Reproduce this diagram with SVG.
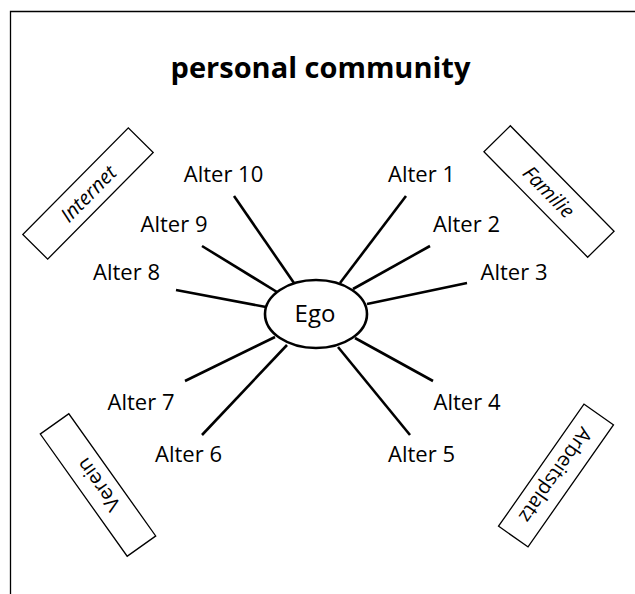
<svg xmlns="http://www.w3.org/2000/svg" width="635" height="594" viewBox="0 0 635 594">
<style>
text{font-family:"Open Sans","Noto Sans","Liberation Sans",sans-serif;fill:#000}
.lbl{font-size:22px;text-anchor:middle}
.box{fill:#fff;stroke:#000;stroke-width:1.3}
.bt{font-size:20px;text-anchor:middle;dominant-baseline:central}
.edge{stroke:#000;stroke-width:2.6;stroke-linecap:butt;fill:none}
</style>
<rect width="635" height="594" fill="#fff"/>
<path d="M10.5 594 V11.5 H635" fill="none" stroke="#000" stroke-width="1.3"/>
<text x="320.5" y="78" font-size="29" font-weight="bold" text-anchor="middle">personal community</text>
<g id="connectors">
<line class="edge" x1="234" y1="196" x2="294" y2="283"/>
<line class="edge" x1="406" y1="196" x2="340" y2="283"/>
<line class="edge" x1="202" y1="246" x2="277" y2="292"/>
<line class="edge" x1="430" y1="246" x2="353" y2="289"/>
<line class="edge" x1="176" y1="290" x2="266" y2="307"/>
<line class="edge" x1="467" y1="283" x2="367" y2="304"/>
<line class="edge" x1="185" y1="381" x2="275" y2="337"/>
<line class="edge" x1="433" y1="381" x2="355" y2="338"/>
<line class="edge" x1="202" y1="435" x2="287" y2="345"/>
<line class="edge" x1="410" y1="435" x2="338" y2="347"/>
</g>
<g id="ego">
<ellipse cx="316" cy="314" rx="51" ry="34" fill="#fff" stroke="#000" stroke-width="2.6"/>
<text x="315" y="322" font-size="24" text-anchor="middle">Ego</text>
</g>
<g id="alter10"><text class="lbl" x="223.5" y="182">Alter 10</text></g>
<g id="alter1"><text class="lbl" x="421.5" y="182">Alter 1</text></g>
<g id="alter9"><text class="lbl" x="174" y="232">Alter 9</text></g>
<g id="alter2"><text class="lbl" x="466.5" y="232">Alter 2</text></g>
<g id="alter8"><text class="lbl" x="126.5" y="280">Alter 8</text></g>
<g id="alter3"><text class="lbl" x="514" y="280">Alter 3</text></g>
<g id="alter7"><text class="lbl" x="141" y="410">Alter 7</text></g>
<g id="alter4"><text class="lbl" x="467" y="410">Alter 4</text></g>
<g id="alter6"><text class="lbl" x="188.5" y="462">Alter 6</text></g>
<g id="alter5"><text class="lbl" x="421.5" y="462">Alter 5</text></g>
<g id="internet" transform="translate(88 193.5) rotate(-45.3)">
<rect class="box" x="-75" y="-17.5" width="150" height="35"/>
<text class="bt" x="0" y="0" font-style="italic">Internet</text>
</g>
<g id="familie" transform="translate(549 191.5) rotate(45.5)">
<rect class="box" x="-74" y="-18.5" width="148" height="37"/>
<text class="bt" x="0" y="0" font-style="italic">Familie</text>
</g>
<g id="verein" transform="translate(98 485) rotate(-125.4)">
<rect class="box" x="-75" y="-17.5" width="150" height="35"/>
<text class="bt" x="0" y="0">Verein</text>
</g>
<g id="arbeitsplatz" transform="translate(556 475.5) rotate(125)">
<rect class="box" x="-74.5" y="-18" width="149" height="36"/>
<text class="bt" x="0" y="0">Arbeitsplatz</text>
</g>
</svg>
